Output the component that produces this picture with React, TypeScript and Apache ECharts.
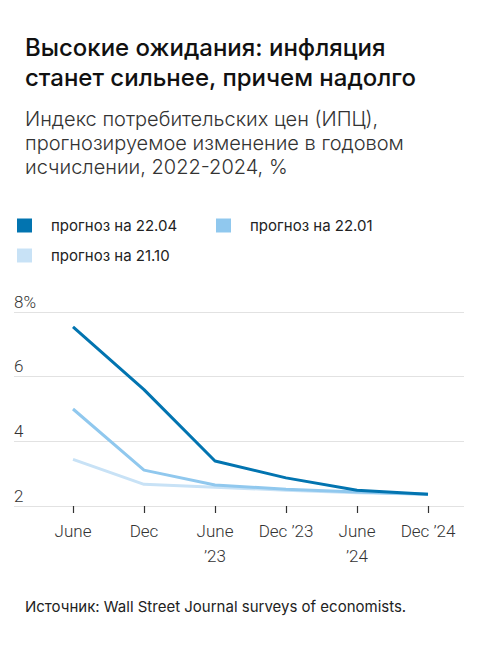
import React, { useEffect, useRef } from "react";
import * as echarts from "echarts";

// Forecast periods on the x axis
const periods = ["June", "Dec", "June\n’23", "Dec ’23", "June\n’24", "Dec ’24"];

// CPI forecasts, annual change, %
const forecastApr22 = [7.54, 5.6, 3.39, 2.87, 2.49, 2.36];
const forecastJan22 = [5.0, 3.11, 2.65, 2.52, 2.43, 2.36];
const forecastOct21 = [3.44, 2.67, 2.58, 2.49, 2.41, 2.36];

const seriesNames = ["прогноз на 22.04", "прогноз на 22.01", "прогноз на 21.10"];
const seriesColors = ["#0274b0", "#90c8ee", "#c8e2f6"];

// y-axis range and ticks
const yMin = 2;
const yMax = 8;
const yStep = 2;

const title = "Высокие ожидания: инфляция\nстанет сильнее, причем надолго";
const subtitle =
  "Индекс потребительских цен (ИПЦ),\nпрогнозируемое изменение в годовом\nисчислении, 2022-2024, %";
const source = "Источник: Wall Street Journal surveys of economists.";

const sansFont = "Inter, 'Noto Sans', sans-serif";
const axisFont = "Roboto, 'Liberation Sans Narrow', sans-serif";

export default function App() {
  const ref = useRef<HTMLDivElement>(null);

  useEffect(() => {
    if (!ref.current) return;
    const chart = echarts.init(ref.current, undefined, { renderer: "svg" });

    const legendPos = [
      { left: 17, top: 218 },
      { left: 216, top: 218 },
      { left: 17, top: 248 },
    ];

    const seriesData = [forecastApr22, forecastJan22, forecastOct21];

    chart.setOption({
      animation: false,
      backgroundColor: "#ffffff",
      title: [
        {
          text: title,
          left: 25,
          top: 32,
          padding: 0,
          textStyle: {
            fontFamily: sansFont,
            fontSize: 24,
            fontWeight: 500,
            lineHeight: 30,
            color: "#111111",
          },
        },
        {
          text: subtitle,
          left: 25,
          top: 107,
          padding: 0,
          textStyle: {
            fontFamily: sansFont,
            fontSize: 20,
            fontWeight: 300,
            lineHeight: 24,
            color: "#333333",
          },
        },
        {
          text: source,
          left: 25,
          top: 599,
          padding: 0,
          textStyle: {
            fontFamily: sansFont,
            fontSize: 15,
            fontWeight: 400,
            color: "#222222",
          },
        },
      ],
      legend: seriesNames.map((name, i) => ({
        data: [name],
        left: legendPos[i].left,
        top: legendPos[i].top,
        icon: "rect",
        itemWidth: 15,
        itemHeight: 14,
        padding: 0,
        selectedMode: false,
        textStyle: {
          fontFamily: sansFont,
          fontSize: 15,
          color: "#222222",
          padding: [0, 0, 0, 14],
        },
      })),
      grid: [
        { left: 14, right: 20, top: 312, bottom: 139 },
        { left: 73, right: 56, top: 312, bottom: 139 },
      ],
      xAxis: [
        {
          type: "category",
          gridIndex: 0,
          data: periods,
          show: false,
        },
        {
          type: "category",
          gridIndex: 1,
          data: periods,
          boundaryGap: false,
          axisLine: { show: false },
          axisTick: {
            show: true,
            length: 7,
            lineStyle: { color: "#333333", width: 1.2 },
          },
          axisLabel: {
            interval: 0,
            margin: 12,
            fontFamily: axisFont,
            fontWeight: 300,
            fontSize: 17,
            lineHeight: 25,
            color: "#333333",
          },
        },
      ],
      yAxis: [
        {
          type: "value",
          gridIndex: 0,
          min: yMin,
          max: yMax,
          interval: yStep,
          axisLine: { show: false },
          axisTick: { show: false },
          splitLine: { lineStyle: { color: "#e2e2e2", width: 1.2 } },
          axisLabel: {
            inside: true,
            margin: 0,
            verticalAlign: "bottom",
            padding: [0, 0, 2, 0],
            fontFamily: axisFont,
            fontWeight: 300,
            fontSize: 17,
            color: "#333333",
            formatter: (v: number) => (v === yMax ? `${v}%` : `${v}`),
          },
        },
        {
          type: "value",
          gridIndex: 1,
          min: yMin,
          max: yMax,
          interval: yStep,
          show: false,
          splitLine: { show: false },
        },
      ],
      series: seriesNames
        .map((name, i) => ({
          name,
          type: "line",
          xAxisIndex: 1,
          yAxisIndex: 1,
          data: seriesData[i],
          symbol: "none",
          lineStyle: { color: seriesColors[i], width: 3 },
          itemStyle: { color: seriesColors[i] },
          z: 10 - i,
        }))
        .reverse(),
    });

    return () => chart.dispose();
  }, []);

  return (
    <div
      ref={ref}
      style={{ position: "fixed", left: 0, top: 0, width: 484, height: 645 }}
    />
  );
}
